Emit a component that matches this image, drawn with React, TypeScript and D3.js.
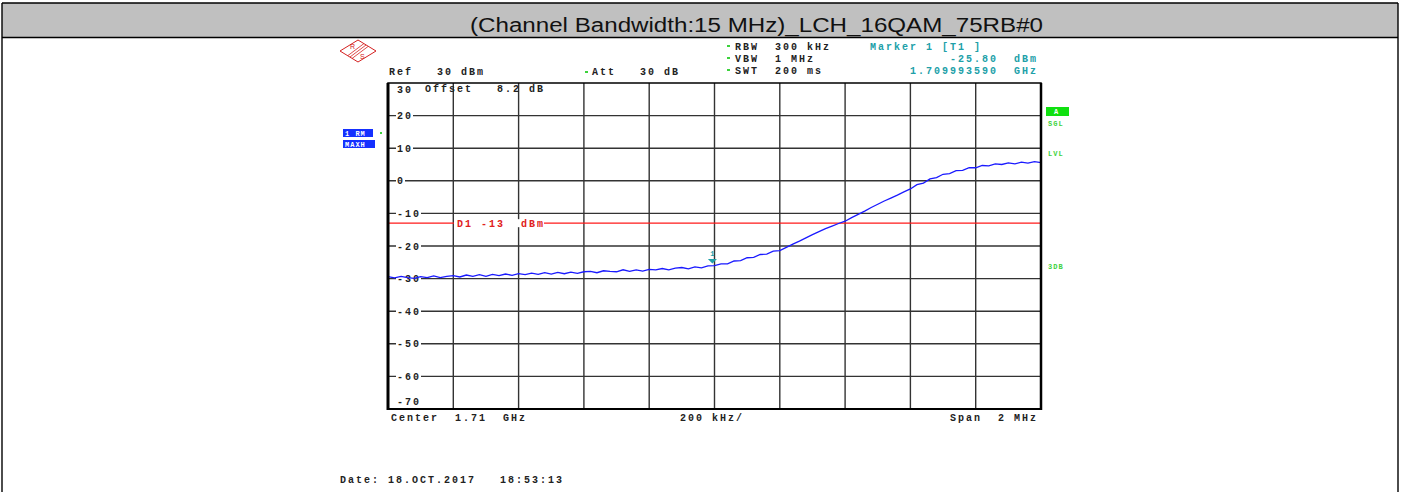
import * as d3 from "d3";

// sweep settings
const sweepStartMHz = 1709;
const sweepStopMHz = 1711;
const refLevel = 30;
const bottomLevel = -70;
const yTicks = [30, 20, 10, 0, -10, -20, -30, -40, -50, -60, -70];
const displayLineDbm = -13;
const markerFreqMHz = 1709.99359;
const markerDbm = -25.8;

// trace, 101 sweep points (dBm)
const traceDbm = [
  -29.4, -29.8, -29.3, -29.7, -29.9, -29.4, -29.7, -29.2, -29.7, -29.3, -29.1,
  -29.5, -28.9, -29.3, -28.8, -29.3, -28.7, -29.1, -28.6, -29.0, -28.5,
  -28.8, -28.3, -28.7, -28.2, -28.6, -28.1, -28.5, -28.0, -28.4, -27.9,
  -27.8, -28.2, -27.6, -27.8, -27.9, -27.3, -27.8, -27.3, -27.7, -27.2,
  -27.3, -26.9, -27.3, -26.8, -26.6, -27.0, -26.4, -26.7, -26.1, -26.0,
  -25.5, -25.5, -24.6, -24.5, -23.6, -23.5, -22.6, -22.5, -21.6, -21.4,
  -20.4, -19.4, -18.5, -17.5, -16.5, -15.6, -14.7, -13.9, -13.1, -12.4,
  -11.3, -10.3, -9.3, -8.2, -7.2, -6.2, -5.3, -4.4, -3.4, -2.5,
  -1.2, -0.7, 0.6, 1.0, 2.0, 2.2, 3.1, 3.2, 4.0, 4.0,
  4.7, 4.6, 5.2, 5.0, 5.5, 5.2, 5.7, 5.4, 5.9, 5.6,
];

const title = "(Channel Bandwidth:15 MHz)_LCH_16QAM_75RB#0";

const W = 1402;
const H = 492;
const plot = { left: 388, right: 1041, top: 83, bottom: 409 };

const mono: React.CSSProperties = {
  fontFamily: "'Liberation Mono', 'DejaVu Sans Mono', monospace",
  fontSize: 10,
  fontWeight: "bold",
  letterSpacing: 2,
  whiteSpace: "pre",
};

export default function App() {
  const x = d3.scaleLinear().domain([sweepStartMHz, sweepStopMHz]).range([plot.left, plot.right]);
  const y = d3.scaleLinear().domain([bottomLevel, refLevel]).range([plot.bottom, plot.top]);

  const step = (sweepStopMHz - sweepStartMHz) / (traceDbm.length - 1);
  const line = d3
    .line<number>()
    .x((_, i) => x(sweepStartMHz + i * step))
    .y((d) => y(d));

  const vGrid = x.ticks(10).slice(1, -1);
  const hGrid = yTicks.slice(1, -1);
  const mx = x(markerFreqMHz);
  const my = y(markerDbm);
  const dl = y(displayLineDbm);

  const green = "#3cd23c";
  const teal = "#20a0a8";

  return (
    <svg width={W} height={H} style={{ position: "absolute", left: 0, top: 0, background: "#fff" }}>
      {/* table header */}
      <rect x={2} y={3} width={1396} height={34} fill="#c0c0c0" />
      <line x1={2} x2={1398} y1={3} y2={3} stroke="#000" strokeWidth={1.6} />
      <line x1={2} x2={1398} y1={37.5} y2={37.5} stroke="#000" strokeWidth={1.4} />
      <line x1={2} x2={2} y1={3} y2={H} stroke="#000" strokeWidth={1.4} />
      <line x1={1398} x2={1398} y1={3} y2={H} stroke="#000" strokeWidth={1.4} />
      <text
        x={470}
        y={32}
        textLength={573}
        lengthAdjust="spacingAndGlyphs"
        style={{ fontFamily: "'Liberation Sans', Arial, sans-serif", fontSize: 20, fill: "#111" }}
      >
        {title}
      </text>

      {/* R&S logo */}
      <g stroke="#d42020" fill="none" strokeWidth={1}>
        <path d="M340,51 L358,40 L376,51 L358,62 Z" />
        <path d="M350,57 L366,45 M352,58.5 L368,46.5 M348,55.5 L364,43.5" strokeWidth={0.8} />
        <text x={350} y={49} style={{ fontFamily: "'Liberation Sans', sans-serif", fontSize: 7, fill: "#d42020", stroke: "none" }}>R</text>
        <text x={360} y={59} style={{ fontFamily: "'Liberation Sans', sans-serif", fontSize: 7, fill: "#d42020", stroke: "none" }}>S</text>
      </g>

      {/* top settings */}
      <text x={389} y={75} style={{ ...mono, fill: "#222" }}>{"Ref   30 dBm"}</text>
      <rect x={585} y={71} width={3} height={2} fill={green} />
      <text x={592} y={75} style={{ ...mono, fill: "#222" }}>{"Att   30 dB"}</text>
      {["RBW  300 kHz", "VBW  1 MHz", "SWT  200 ms"].map((s, i) => (
        <g key={s}>
          <rect x={727} y={45 + i * 12} width={3} height={2} fill={green} />
          <text x={735} y={50 + i * 12} style={{ ...mono, fill: "#222" }}>{s}</text>
        </g>
      ))}
      <text x={870} y={50} style={{ ...mono, fill: teal }}>{"Marker 1 [T1 ]"}</text>
      <text x={1038} y={62} textAnchor="end" style={{ ...mono, fill: teal }}>{"-25.80  dBm"}</text>
      <text x={1038} y={74} textAnchor="end" style={{ ...mono, fill: teal }}>{"1.709993590  GHz"}</text>

      {/* left trace labels */}
      <rect x={343} y={129} width={30} height={8} fill="#1530ff" />
      <text x={345} y={136} style={{ ...mono, fontSize: 7, letterSpacing: 1, fill: "#fff" }}>{"1 RM"}</text>
      <rect x={343} y={140} width={32} height={8} fill="#1530ff" />
      <text x={345} y={147} style={{ ...mono, fontSize: 7, letterSpacing: 1, fill: "#fff" }}>{"MAXH"}</text>
      <rect x={380} y={132} width={2} height={2} fill={green} />

      {/* right labels */}
      <rect x={1046} y={107} width={23} height={9} fill="#10e010" />
      <text x={1054} y={114} style={{ ...mono, fontSize: 7, letterSpacing: 0, fill: "#fff" }}>A</text>
      <text x={1048} y={126} style={{ ...mono, fontSize: 7, letterSpacing: 1, fill: green }}>SGL</text>
      <text x={1048} y={156} style={{ ...mono, fontSize: 7, letterSpacing: 1, fill: green }}>LVL</text>
      <text x={1048} y={269} style={{ ...mono, fontSize: 7, letterSpacing: 1, fill: green }}>3DB</text>

      {/* grid */}
      {vGrid.map((v) => (
        <line key={v} x1={x(v)} x2={x(v)} y1={plot.top} y2={plot.bottom} stroke="#333" strokeWidth={1.4} />
      ))}
      {hGrid.map((v) => (
        <line key={v} x1={plot.left} x2={plot.right} y1={y(v)} y2={y(v)} stroke="#333" strokeWidth={1.4} />
      ))}

      {/* y labels */}
      {yTicks.map((v, i) => {
        const ty = i === 0 ? y(v) + 6 : i === yTicks.length - 1 ? y(v) - 8 : y(v);
        const lbl = String(v);
        return (
          <g key={v}>
            {i > 0 && i < yTicks.length - 1 && (
              <rect x={396} y={ty - 4} width={lbl.length * 8 + 1} height={8} fill="#fff" />
            )}
            <text x={397} y={ty + 3.5} style={{ ...mono, fill: "#222" }}>{lbl}</text>
          </g>
        );
      })}
      <text x={425} y={92} style={{ ...mono, fill: "#222" }}>{"Offset   8.2 dB"}</text>

      {/* display line */}
      <line x1={plot.left} x2={plot.right} y1={dl} y2={dl} stroke="#ff1a1a" strokeWidth={1.2} />
      <rect x={454} y={dl - 4} width={90} height={8} fill="#fff" />
      <text x={457} y={dl + 3.5} style={{ ...mono, fill: "#e02020" }}>{"D1 -13  dBm"}</text>

      {/* trace */}
      <path d={line(traceDbm) ?? ""} fill="none" stroke="#1a1aff" strokeWidth={1.3} />

      {/* marker */}
      <path d={`M${mx - 4.5},${my - 6} L${mx + 4.5},${my - 6} L${mx},${my - 1.5} Z`} fill={teal} />
      <text x={mx} y={my - 9} textAnchor="middle" style={{ ...mono, fontSize: 7, letterSpacing: 0, fill: teal }}>1</text>

      {/* frame */}
      <rect x={plot.left} y={plot.top} width={plot.right - plot.left} height={plot.bottom - plot.top} fill="none" stroke="#000" strokeWidth={1.5} />
      <line x1={plot.left} x2={plot.left} y1={plot.top} y2={plot.bottom + 1} stroke="#000" strokeWidth={3} />
      <line x1={plot.right} x2={plot.right} y1={plot.top} y2={plot.bottom + 1} stroke="#000" strokeWidth={2.5} />
      <line x1={plot.left} x2={plot.right} y1={plot.bottom} y2={plot.bottom} stroke="#000" strokeWidth={2.2} />

      {/* bottom labels */}
      <text x={391} y={421} style={{ ...mono, fill: "#222" }}>{"Center  1.71  GHz"}</text>
      <text x={680} y={421} style={{ ...mono, fill: "#222" }}>{"200 kHz/"}</text>
      <text x={1038} y={421} textAnchor="end" style={{ ...mono, fill: "#222" }}>{"Span  2 MHz"}</text>
      <text x={340} y={483} style={{ ...mono, fill: "#222" }}>{"Date: 18.OCT.2017   18:53:13"}</text>
    </svg>
  );
}
